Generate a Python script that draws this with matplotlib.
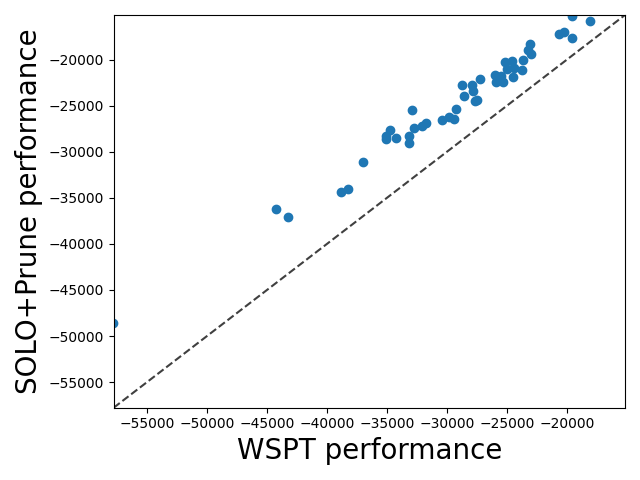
import numpy as np
import matplotlib
matplotlib.use("Agg")
import matplotlib.pyplot as plt

# performance of each instance: WSPT baseline vs SOLO+Prune
wspt = [-57800, -44250, -43250, -38833, -38250, -37000, -35083, -35083, -34750,
        -34233, -33192, -33192, -32917, -32750, -32083, -31717, -30417, -29858,
        -29442, -29250, -28750, -28608, -27900, -27858, -27667, -27500, -27233,
        -26025, -25900, -25525, -25358, -25167, -24983, -24567, -24508, -24400,
        -23750, -23692, -23258, -23050, -22967, -20692, -20275, -19583, -19583,
        -18108]
solo_prune = [-48560, -36269, -37061, -34393, -34100, -31096, -28319, -28677, -27700,
              -28492, -28319, -29035, -25531, -27408, -27213, -26866, -26529, -26215,
              -26421, -25336, -22744, -23981, -22733, -23416, -24468, -24339, -22137,
              -21627, -22419, -21790, -22462, -20249, -21009, -20184, -21930, -20944,
              -21085, -20000, -18915, -18265, -19403, -17213, -16963, -17646, -15228,
              -15803]

# shared axis range (corner to corner diagonal)
lims = [-57780, -15170]

fig, ax = plt.subplots(figsize=(6.4, 4.8), dpi=100)
ax.scatter(wspt, solo_prune)
ax.plot(lims, lims, 'k--', alpha=0.75, zorder=0)
ax.set_xlim(lims)
ax.set_ylim(lims)
ax.set_xlabel('WSPT performance', fontsize=20)
ax.set_ylabel('SOLO+Prune performance', fontsize=20)

plt.tight_layout()
plt.savefig('out.png')
